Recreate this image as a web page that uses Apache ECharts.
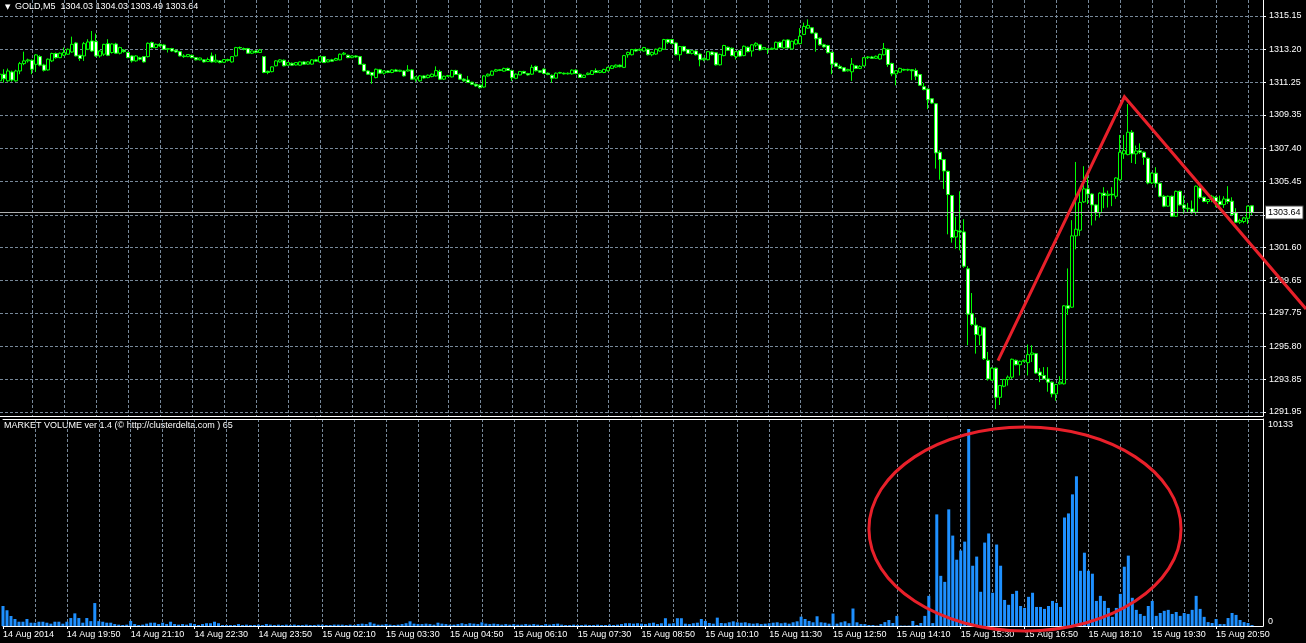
<!DOCTYPE html>
<html>
<head>
<meta charset="utf-8">
<script src="https://cdn.jsdelivr.net/npm/echarts@6/dist/echarts.min.js"></script>
<style>
  html, body { margin: 0; padding: 0; background: #000; }
  #chart { width: 1306px; height: 643px; }
</style>
</head>
<body>
<div id="chart"></div>
<script>
// GOLD M5, 14 Aug 2014 18:30 .. 15 Aug 2014 21:35, one row per bar: [open, close, low, high]
var ohlc = [
  [1311.35,1311.74,1310.76,1312.03],[1311.74,1311.47,1311.25,1312.03],[1311.35,1311.93,1311.30,1312.07],[1311.87,1311.40,1311.30,1311.95],
  [1311.35,1311.93,1311.30,1312.00],[1311.93,1312.36,1311.74,1312.46],[1312.36,1312.52,1312.27,1313.06],[1312.52,1312.58,1312.42,1312.65],
  [1312.56,1312.03,1311.74,1312.60],[1312.32,1312.87,1311.87,1312.91],[1312.77,1312.27,1312.20,1312.85],[1312.28,1311.97,1311.90,1312.35],
  [1311.99,1312.62,1311.95,1312.66],[1312.52,1312.95,1312.45,1313.00],[1312.95,1312.71,1312.65,1313.01],[1312.71,1312.97,1312.68,1313.01],
  [1312.85,1313.01,1312.80,1313.30],[1312.91,1313.20,1312.88,1313.25],[1313.04,1313.49,1313.00,1313.94],[1313.57,1312.81,1312.78,1313.63],
  [1312.85,1312.66,1312.52,1312.88],[1312.81,1313.53,1312.52,1313.63],[1313.20,1313.63,1313.15,1313.79],[1313.69,1313.10,1313.05,1314.27],
  [1313.65,1312.81,1312.75,1314.12],[1312.81,1313.10,1312.71,1313.15],[1312.91,1313.49,1312.81,1313.52],[1313.53,1312.85,1312.80,1313.79],
  [1313.01,1313.51,1312.95,1313.55],[1313.51,1312.97,1312.92,1313.58],[1312.97,1313.30,1312.90,1313.35],[1313.15,1313.06,1313.00,1313.20],
  [1313.01,1312.71,1312.68,1313.06],[1312.81,1312.52,1312.42,1312.85],[1312.52,1312.81,1312.48,1312.85],[1312.71,1312.62,1312.55,1312.76],
  [1312.77,1312.46,1312.42,1312.80],[1312.77,1313.55,1312.72,1313.60],[1313.59,1313.30,1313.25,1313.65],[1313.30,1313.49,1313.25,1313.53],
  [1313.49,1313.40,1313.35,1313.55],[1313.45,1313.20,1313.15,1313.50],[1313.20,1313.24,1313.01,1313.28],[1313.24,1313.10,1313.05,1313.28],
  [1313.14,1313.04,1313.00,1313.18],[1313.06,1312.81,1312.78,1313.10],[1312.81,1312.77,1312.70,1312.91],[1312.77,1312.89,1312.74,1312.92],
  [1312.85,1312.71,1312.68,1312.89],[1312.71,1312.58,1312.55,1312.74],[1312.58,1312.69,1312.55,1312.72],[1312.58,1312.46,1312.42,1312.62],
  [1312.48,1312.60,1312.45,1312.71],[1312.81,1312.46,1312.42,1313.01],[1312.46,1312.56,1312.42,1312.91],[1312.52,1312.42,1312.38,1312.56],
  [1312.44,1312.60,1312.40,1312.63],[1312.60,1312.54,1312.48,1312.65],[1312.46,1312.77,1312.42,1312.80],[1312.81,1313.30,1312.78,1313.34],
  [1313.30,1313.28,1313.20,1313.36],[1313.24,1313.20,1313.14,1313.30],[1313.24,1312.97,1312.94,1313.28],[1312.97,1313.10,1312.92,1313.13],
  [1313.10,1313.01,1312.96,1313.14],[1313.01,1313.16,1312.98,1313.22],[1312.77,1311.84,1311.80,1312.80],[1311.91,1311.84,1311.74,1311.95],
  [1311.89,1312.17,1311.85,1312.20],[1312.23,1312.52,1312.20,1312.56],[1312.46,1312.58,1312.42,1312.62],[1312.56,1312.23,1312.20,1312.60],
  [1312.27,1312.42,1312.23,1312.46],[1312.38,1312.27,1312.24,1312.42],[1312.28,1312.42,1312.25,1312.45],[1312.27,1312.46,1312.24,1312.49],
  [1312.46,1312.33,1312.30,1312.50],[1312.33,1312.46,1312.30,1312.50],[1312.33,1312.58,1312.30,1312.62],[1312.58,1312.50,1312.46,1312.64],
  [1312.46,1312.77,1312.42,1312.80],[1312.77,1312.42,1312.40,1312.81],[1312.46,1312.58,1312.44,1312.62],[1312.58,1312.50,1312.46,1312.64],
  [1312.56,1312.66,1312.52,1312.70],[1312.58,1312.91,1312.55,1312.95],[1312.91,1312.97,1312.85,1313.04],[1312.85,1312.71,1312.68,1312.89],
  [1312.71,1312.81,1312.68,1312.85],[1312.81,1312.75,1312.70,1312.85],[1312.77,1312.32,1312.28,1312.81],[1312.32,1311.93,1311.90,1312.36],
  [1311.93,1311.74,1311.70,1311.97],[1311.84,1311.68,1311.18,1311.87],[1311.54,1312.03,1311.50,1312.07],[1312.00,1311.80,1311.76,1312.05],
  [1311.80,1311.93,1311.72,1311.97],[1311.93,1311.84,1311.80,1311.97],[1311.84,1311.99,1311.80,1312.03],[1311.99,1311.91,1311.88,1312.05],
  [1311.91,1311.97,1311.86,1312.00],[1311.93,1311.64,1311.60,1311.97],[1311.93,1311.99,1311.89,1312.27],[1311.99,1311.45,1311.42,1312.03],
  [1311.45,1311.58,1311.30,1311.62],[1311.35,1311.64,1311.30,1311.68],[1311.64,1311.52,1311.48,1311.68],[1311.54,1311.68,1311.50,1311.72],
  [1311.60,1311.74,1311.56,1311.78],[1311.64,1311.95,1311.60,1312.20],[1311.90,1311.45,1311.40,1312.00],[1311.45,1311.62,1311.40,1311.66],
  [1311.62,1311.66,1311.58,1311.70],[1311.58,1311.96,1311.55,1312.00],[1311.96,1311.72,1311.70,1312.00],[1311.74,1311.45,1311.40,1311.78],
  [1311.45,1311.35,1311.30,1311.50],[1311.40,1311.25,1311.23,1311.64],[1311.27,1311.15,1311.10,1311.30],[1311.15,1311.05,1311.00,1311.20],
  [1311.10,1310.95,1310.90,1311.14],[1310.99,1311.64,1310.95,1311.68],[1311.64,1311.74,1311.60,1311.78],[1311.68,1311.92,1311.65,1311.95],
  [1311.92,1312.00,1311.88,1312.05],[1312.00,1311.96,1311.92,1312.04],[1311.92,1312.08,1311.90,1312.12],[1312.08,1311.96,1311.94,1312.12],
  [1311.96,1311.53,1311.35,1312.00],[1311.50,1311.74,1311.45,1311.78],[1311.70,1311.90,1311.68,1311.93],[1311.90,1311.80,1311.76,1311.94],
  [1311.78,1311.70,1311.66,1311.82],[1311.74,1312.14,1311.70,1312.29],[1312.20,1311.94,1311.90,1312.24],[1311.94,1311.86,1311.82,1311.98],
  [1312.04,1311.78,1311.74,1312.08],[1311.80,1311.72,1311.68,1311.84],[1311.68,1311.51,1311.25,1311.72],[1311.51,1311.80,1311.48,1311.84],
  [1311.80,1311.84,1311.76,1311.88],[1311.80,1311.76,1311.72,1311.84],[1311.76,1311.80,1311.72,1311.84],[1311.76,1311.98,1311.72,1312.02],
  [1311.98,1311.78,1311.74,1312.02],[1311.74,1311.55,1311.52,1311.78],[1311.55,1311.68,1311.52,1311.72],[1311.72,1311.80,1311.68,1311.84],
  [1311.72,1311.94,1311.70,1311.98],[1311.94,1311.84,1311.80,1312.08],[1311.84,1311.94,1311.80,1311.98],[1311.84,1312.02,1311.80,1312.06],
  [1311.94,1312.14,1311.90,1312.18],[1312.08,1312.23,1312.04,1312.27],[1312.16,1312.27,1312.12,1312.31],[1312.27,1312.18,1312.14,1312.31],
  [1312.14,1312.83,1312.10,1312.87],[1312.88,1313.02,1312.71,1313.06],[1312.88,1313.18,1312.84,1313.22],[1313.18,1313.10,1313.06,1313.24],
  [1313.14,1313.20,1313.10,1313.24],[1313.10,1313.30,1313.06,1313.34],[1313.20,1312.88,1312.84,1313.24],[1312.88,1313.02,1312.79,1313.06],
  [1312.92,1313.20,1312.88,1313.24],[1313.10,1313.26,1313.06,1313.30],[1313.20,1313.77,1313.16,1313.81],[1313.77,1313.61,1313.51,1313.81],
  [1313.77,1313.53,1313.50,1313.81],[1313.57,1312.88,1312.84,1313.61],[1312.88,1313.36,1312.53,1313.40],[1313.36,1313.10,1313.06,1313.40],
  [1313.18,1312.96,1312.92,1313.22],[1312.96,1313.12,1312.90,1313.16],[1313.10,1312.88,1312.84,1313.14],[1312.92,1312.59,1312.20,1312.96],
  [1312.59,1312.67,1312.50,1312.71],[1312.59,1313.06,1312.55,1313.10],[1313.04,1312.88,1312.84,1313.08],[1313.00,1312.29,1312.25,1313.04],
  [1312.29,1312.90,1312.25,1312.94],[1312.83,1313.42,1312.79,1313.46],[1313.32,1313.14,1313.10,1313.36],[1313.26,1312.83,1312.79,1313.30],
  [1312.77,1313.06,1312.60,1313.10],[1313.12,1312.80,1312.76,1313.16],[1312.83,1313.38,1312.79,1313.42],[1313.32,1313.06,1313.02,1313.36],
  [1313.10,1313.46,1312.77,1313.50],[1313.44,1313.55,1313.32,1313.61],[1313.46,1313.16,1313.12,1313.50],[1313.20,1313.30,1313.16,1313.34],
  [1313.22,1313.20,1312.92,1313.26],[1313.20,1313.26,1313.16,1313.30],[1313.22,1313.61,1313.18,1313.65],[1313.61,1313.30,1313.26,1313.65],
  [1313.28,1313.73,1313.24,1313.77],[1313.75,1313.28,1313.24,1313.79],[1313.22,1313.67,1313.18,1313.71],[1313.51,1313.75,1313.47,1313.79],
  [1313.53,1313.97,1313.49,1314.44],[1314.07,1314.54,1314.03,1314.76],[1314.44,1314.60,1314.40,1314.95],[1314.46,1314.15,1314.11,1314.50],
  [1314.15,1313.81,1313.06,1314.19],[1313.85,1313.46,1313.42,1313.89],[1313.46,1313.34,1313.30,1313.53],[1313.42,1313.00,1312.96,1313.46],
  [1313.02,1312.33,1311.74,1313.06],[1312.39,1312.20,1312.16,1312.43],[1312.20,1312.08,1312.04,1312.31],[1312.12,1311.92,1311.88,1312.16],
  [1311.94,1312.02,1311.90,1312.06],[1311.88,1312.33,1311.35,1312.69],[1312.23,1312.08,1312.04,1312.27],[1312.08,1312.20,1312.04,1312.27],
  [1312.23,1312.71,1312.20,1312.75],[1312.71,1312.75,1312.63,1312.80],[1312.75,1312.67,1312.63,1312.81],[1312.67,1312.79,1312.63,1312.83],
  [1312.63,1312.90,1312.59,1312.94],[1312.88,1313.24,1312.84,1313.57],[1313.20,1312.31,1312.17,1313.24],[1312.37,1311.76,1311.62,1312.41],
  [1311.76,1311.94,1311.09,1311.98],[1311.86,1312.08,1311.82,1312.12],[1312.02,1311.98,1311.94,1312.06],[1311.98,1312.02,1311.92,1312.06],
  [1312.00,1311.94,1311.39,1312.04],[1311.96,1311.62,1311.39,1312.08],[1311.72,1311.09,1311.05,1311.76],[1311.01,1310.84,1310.80,1311.23],
  [1310.87,1310.24,1309.69,1310.91],[1310.30,1310.05,1310.00,1310.34],[1310.01,1307.13,1306.21,1310.05],[1307.17,1306.74,1305.56,1307.29],
  [1306.74,1306.07,1305.02,1306.78],[1306.05,1304.69,1302.36,1306.09],[1304.63,1302.17,1301.87,1304.67],[1302.20,1302.59,1301.52,1303.39],
  [1302.56,1302.50,1301.42,1304.88],[1302.50,1300.49,1300.40,1303.25],[1300.34,1297.68,1295.86,1300.49],[1297.70,1297.08,1297.00,1298.92],
  [1297.04,1296.49,1295.37,1297.48],[1296.45,1296.94,1295.86,1297.00],[1296.88,1295.07,1295.00,1296.92],[1294.98,1293.89,1293.79,1295.47],
  [1293.82,1294.52,1293.78,1294.58],[1294.52,1292.81,1292.12,1294.56],[1292.81,1293.50,1292.36,1293.54],[1293.46,1293.85,1293.40,1293.89],
  [1293.85,1293.99,1293.50,1294.09],[1293.99,1295.04,1293.89,1295.08],[1294.98,1294.72,1294.68,1295.02],[1294.72,1294.92,1294.09,1294.96],
  [1294.92,1294.98,1294.86,1295.02],[1294.84,1295.31,1294.09,1295.90],[1295.31,1295.41,1294.88,1295.86],[1295.37,1294.23,1294.19,1295.41],
  [1294.29,1294.09,1293.70,1294.52],[1294.09,1293.89,1293.85,1294.58],[1293.89,1293.70,1293.14,1294.58],[1293.70,1293.01,1292.81,1293.74],
  [1293.01,1293.56,1292.61,1293.60],[1293.60,1293.70,1293.56,1294.05],[1293.60,1298.17,1293.56,1298.21],[1298.17,1298.03,1297.64,1300.36],
  [1298.09,1302.27,1298.05,1303.19],[1302.27,1302.66,1301.48,1306.60],[1302.60,1304.23,1302.27,1304.80],[1304.26,1305.02,1304.20,1306.35],
  [1305.02,1304.72,1304.14,1305.84],[1304.72,1304.08,1302.88,1304.76],[1304.08,1303.62,1303.17,1304.12],[1303.62,1304.77,1303.34,1304.82],
  [1304.77,1304.64,1303.89,1305.12],[1304.64,1304.71,1303.93,1304.92],[1304.71,1304.67,1304.01,1305.12],[1304.59,1305.66,1304.44,1305.70],
  [1305.56,1307.17,1305.50,1308.18],[1307.07,1307.26,1306.78,1308.18],[1307.03,1308.34,1306.99,1309.99],[1308.34,1307.07,1306.54,1308.47],
  [1307.07,1307.24,1306.48,1307.56],[1307.26,1307.17,1307.07,1307.69],[1307.17,1306.87,1306.43,1307.21],[1306.82,1305.37,1305.29,1306.86],
  [1305.37,1305.94,1305.31,1306.00],[1305.94,1305.35,1305.10,1306.29],[1305.35,1304.59,1304.53,1305.39],[1304.59,1304.01,1303.95,1304.67],
  [1304.01,1304.59,1303.97,1304.63],[1304.59,1303.42,1303.38,1304.63],[1303.42,1304.88,1303.38,1304.92],[1304.88,1304.08,1304.04,1304.92],
  [1304.08,1303.89,1303.56,1304.63],[1303.89,1303.85,1303.66,1304.20],[1303.85,1303.66,1303.56,1304.34],[1303.66,1305.18,1303.52,1305.22],
  [1305.08,1304.53,1304.44,1305.22],[1304.53,1304.28,1304.24,1304.57],[1304.28,1304.40,1304.14,1304.44],[1304.40,1304.59,1304.24,1304.67],
  [1304.53,1304.28,1303.95,1304.59],[1304.30,1304.10,1304.04,1304.63],[1304.10,1304.43,1303.91,1304.59],[1304.43,1304.28,1304.14,1305.18],
  [1304.30,1303.52,1303.46,1304.53],[1303.62,1303.07,1303.03,1303.89],[1303.07,1303.17,1302.97,1303.27],[1303.11,1303.32,1303.01,1303.38],
  [1303.30,1304.01,1302.97,1304.05],[1304.03,1303.64,1303.49,1304.03]
];

// MARKET VOLUME indicator, one value per bar
var volume = [
  1030,810,515,360,220,220,360,170,170,220,220,170,120,220,220,120,220,410,650,410,
  170,410,250,1180,250,220,170,170,100,70,50,70,260,100,50,70,120,170,170,100,
  170,100,220,100,70,100,70,140,100,50,100,140,140,220,140,50,50,50,50,100,
  50,70,50,50,70,50,100,70,50,70,50,70,50,70,50,50,70,50,50,70,
  70,50,50,70,70,70,50,70,50,100,120,100,190,120,70,70,100,70,50,70,
  100,140,240,120,100,100,120,100,70,170,120,100,70,70,100,140,100,140,120,100,
  190,120,100,120,100,70,100,70,100,70,70,100,70,100,70,50,100,70,100,120,
  70,50,50,70,50,50,70,50,50,70,50,50,70,50,70,100,140,140,120,140,
  120,100,140,170,100,140,400,120,140,400,400,120,100,140,170,360,260,155,120,430,
  155,140,190,240,190,170,190,140,120,140,100,120,140,170,190,140,170,120,190,240,
  480,360,260,190,500,190,170,120,640,120,190,240,140,900,190,100,100,50,50,20,
  100,200,310,155,520,20,20,20,260,50,155,520,1550,150,5740,2580,2270,6000,4650,3410,
  3880,4340,10133,3100,3570,1760,4290,4760,1710,4190,3100,1340,1090,1650,1810,1030,930,1500,1710,980,
  980,880,1030,1290,1190,980,5580,5790,6770,7700,2840,3770,2840,2690,1290,1550,1290,930,470,930,
  1650,3050,3620,1450,830,620,520,1030,1290,520,670,780,830,620,720,520,670,620,830,1550,
  880,470,200,155,360,100,100,410,670,570,310,200,155,50
];

var timeLabels = [
  '14 Aug 2014', '14 Aug 19:50', '14 Aug 21:10', '14 Aug 22:30', '14 Aug 23:50',
  '15 Aug 02:10', '15 Aug 03:30', '15 Aug 04:50', '15 Aug 06:10', '15 Aug 07:30',
  '15 Aug 08:50', '15 Aug 10:10', '15 Aug 11:30', '15 Aug 12:50', '15 Aug 14:10',
  '15 Aug 15:30', '15 Aug 16:50', '15 Aug 18:10', '15 Aug 19:30', '15 Aug 20:50'
];
var barsPerLabel = 16;
var barsPerGridLine = 8;

var priceLabels = [1291.95, 1293.85, 1295.80, 1297.75, 1299.65, 1301.60, 1305.45, 1307.40, 1309.35, 1311.25, 1313.20, 1315.15];
var priceGridValues = [1291.95, 1293.85, 1295.80, 1297.75, 1299.65, 1301.60, 1303.50, 1305.45, 1307.40, 1309.35, 1311.25, 1313.20, 1315.15];
var volumeLabels = [0, 10133];
var lastPrice = 1303.64;
var lastBar = [1304.03, 1304.03, 1303.49, 1303.64]; // O H L C in the header

// hand drawn annotations, in bar index / price and bar index / volume units
var trendLine = [[249.5, 1294.96], [281.1, 1310.42], [326.5, 1297.99]];
var volumeEllipse = { bar: 256.1, vol: 4990, halfBars: 39.1, halfVol: 5245 };

var labelTicks = timeLabels.map(function (t, k) { return k * barsPerLabel; });
var gridTicks = [];
for (var g = 1; g * barsPerGridLine < ohlc.length; g++) gridTicks.push(g * barsPerGridLine);

var font = 'Liberation Sans';
var dash = { color: '#778899', type: [3, 2], width: 1 };
var whiteLine = { show: true, onZero: false, lineStyle: { color: '#fff' } };

var chartDom = document.getElementById('chart');
var chart = echarts.init(chartDom);

var option = {
  backgroundColor: '#000',
  animation: false,
  grid: [
    { left: 0, top: 0, width: 1263, height: 416 },
    { left: 0, top: 419, width: 1263, height: 207 }
  ],
  xAxis: [
    {
      gridIndex: 0, type: 'value', min: 0, max: 315.75, position: 'bottom',
      axisLine: whiteLine,
      axisTick: { show: false, customValues: gridTicks },
      axisLabel: { show: false },
      splitLine: { show: true, lineStyle: dash }
    },
    {
      gridIndex: 1, type: 'value', min: 0, max: 315.75, position: 'top',
      axisLine: whiteLine,
      axisTick: { show: false, customValues: gridTicks },
      axisLabel: { show: false },
      splitLine: { show: true, lineStyle: dash }
    },
    {
      gridIndex: 1, type: 'value', min: 0, max: 315.75, position: 'bottom',
      axisLine: whiteLine,
      axisTick: { show: true, customValues: labelTicks, length: 3, lineStyle: { color: '#fff' } },
      axisLabel: {
        customValues: labelTicks,
        color: '#fff', fontFamily: font, fontSize: 9, margin: 4, align: 'left',
        formatter: function (v) { return timeLabels[Math.round(v / barsPerLabel)]; }
      },
      splitLine: { show: false }
    }
  ],
  yAxis: [
    {
      gridIndex: 0, type: 'value', position: 'right', min: 1291.716, max: 1316.087,
      axisLine: whiteLine,
      axisTick: { show: true, customValues: priceGridValues, length: 3, lineStyle: { color: '#fff' } },
      axisLabel: {
        customValues: priceLabels, color: '#fff', fontFamily: font, fontSize: 9, margin: 6,
        formatter: function (v) { return v.toFixed(2); }
      },
      splitLine: { show: true, lineStyle: dash }
    },
    {
      gridIndex: 1, type: 'value', position: 'right', min: 0, max: 10647,
      axisLine: whiteLine,
      axisTick: { show: false, customValues: volumeLabels },
      axisLabel: {
        customValues: volumeLabels, color: '#fff', fontFamily: font, fontSize: 9, margin: 5, verticalAlign: 'bottom',
        formatter: function (v) { return String(v); }
      },
      splitLine: { show: false }
    }
  ],
  series: [
    {
      name: 'GOLD,M5',
      type: 'candlestick',
      xAxisIndex: 0, yAxisIndex: 0,
      barWidth: 3,
      data: ohlc.map(function (d, i) { return [i, d[0], d[1], d[2], d[3]]; }),
      itemStyle: {
        color: '#000', color0: '#fff',
        borderColor: '#00ff00', borderColor0: '#00ff00', borderColorDoji: '#00ff00',
        borderWidth: 1
      },
      markLine: {
        silent: true, symbol: 'none', animation: false,
        lineStyle: { color: '#b0b0b0', type: 'solid', width: 1 },
        label: {
          position: 'end', distance: 3, formatter: lastPrice.toFixed(2),
          color: '#000', backgroundColor: '#fff', borderColor: '#444', borderWidth: 1,
          padding: [2, 2, 1, 2], fontFamily: font, fontSize: 9
        },
        data: [{ yAxis: lastPrice }]
      }
    },
    {
      name: 'MARKET VOLUME',
      type: 'bar',
      xAxisIndex: 2, yAxisIndex: 1,
      barWidth: 3,
      itemStyle: { color: '#1e90ff' },
      data: volume.map(function (v, i) { return [i, v]; })
    }
  ],
  graphic: [
    { type: 'text', left: 5, top: 4, style: { text: '\u25BC', fill: '#fff', font: '7px "DejaVu Sans"' } },
    {
      type: 'text', left: 15, top: 2,
      style: {
        text: 'GOLD,M5  ' + lastBar.map(function (v) { return v.toFixed(2); }).join(' '),
        fill: '#fff', font: '9px "' + font + '"'
      }
    },
    {
      type: 'text', left: 4, top: 421,
      style: { text: 'MARKET VOLUME ver 1.4 (\u00A9 http://clusterdelta.com ) 65', fill: '#fff', font: '9px "' + font + '"' }
    }
  ]
};

chart.setOption(option);

// annotations placed through the axes' scales (linear maps, so they can run past the plot edge)
function mapper(finder, p0, p1) {
  var a = chart.convertToPixel(finder, p0);
  var b = chart.convertToPixel(finder, p1);
  return function (p) {
    return [
      a[0] + (p[0] - p0[0]) * (b[0] - a[0]) / (p1[0] - p0[0]),
      a[1] + (p[1] - p0[1]) * (b[1] - a[1]) / (p1[1] - p0[1])
    ];
  };
}
var pricePx = mapper({ xAxisIndex: 0, yAxisIndex: 0 }, [0, 1295], [300, 1310]);
var volPx = mapper({ xAxisIndex: 2, yAxisIndex: 1 }, [0, 0], [300, 10000]);

var c = volPx([volumeEllipse.bar, volumeEllipse.vol]);
var e = volPx([volumeEllipse.bar + volumeEllipse.halfBars, volumeEllipse.vol + volumeEllipse.halfVol]);

chart.setOption({
  graphic: option.graphic.concat([
    {
      type: 'polyline', silent: true, z: 100,
      shape: { points: trendLine.map(pricePx) },
      style: { fill: 'none', stroke: '#e8202a', lineWidth: 3 }
    },
    {
      type: 'ellipse', silent: true, z: 100,
      shape: { cx: c[0], cy: c[1], rx: e[0] - c[0], ry: c[1] - e[1] },
      style: { fill: 'none', stroke: '#e8202a', lineWidth: 3 }
    }
  ])
});
</script>
</body>
</html>
